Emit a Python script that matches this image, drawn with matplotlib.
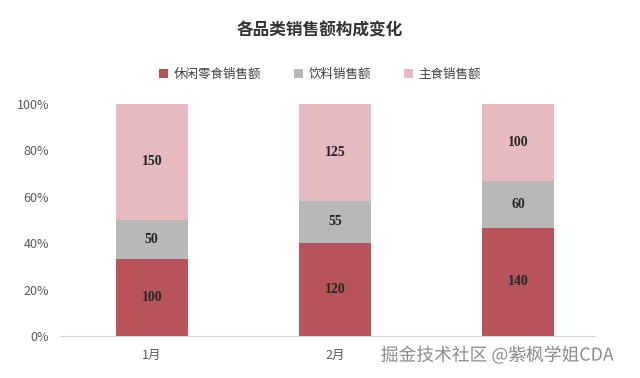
import numpy as np
import matplotlib.pyplot as plt
import matplotlib.patheffects as pe

plt.rcParams['font.family'] = ['Noto Sans CJK SC', 'DejaVu Sans']

months = ['1月', '2月', '3月']
snack = np.array([100, 120, 140])
drink = np.array([50, 55, 60])
staple = np.array([150, 125, 100])
series_names = ['休闲零食销售额', '饮料销售额', '主食销售额']
colors = ['#B7535A', '#B8B8B8', '#E6BAC0']

total = snack + drink + staple
shares = [snack / total, drink / total, staple / total]
raw = [snack, drink, staple]

fig = plt.figure(figsize=(6.4, 3.78), dpi=100)
ax = fig.add_axes([0.094, 0.111, 0.836, 0.614])

x = np.arange(len(months))
bottom = np.zeros(len(months))
for name, share, vals, c in zip(series_names, shares, raw, colors):
    ax.bar(x, share, 0.395, bottom=bottom, color=c, label=name)
    for xi, b, s, v in zip(x, bottom, share, vals):
        ax.text(xi, b + s / 2, str(v), ha='center', va='center',
                fontsize=10, fontweight='bold', color='#262626',
                family='Liberation Serif')
    bottom += share

ax.set_xlim(-0.5, 2.42)
ax.set_ylim(0, 1)
ax.set_yticks(np.arange(0, 1.01, 0.2))
ax.set_yticklabels([f'{int(v * 100)}%' for v in np.arange(0, 1.01, 0.2)])
ax.set_xticks(x)
ax.set_xticklabels(months)
ax.tick_params(axis='both', length=0, labelsize=9, colors='#595959')
ax.tick_params(axis='x', pad=9)
ax.tick_params(axis='y', pad=8)
for s in ['top', 'right', 'left']:
    ax.spines[s].set_visible(False)
ax.spines['bottom'].set_color('#D9D9D9')

fig.text(0.5, 0.92, '各品类销售额构成变化', ha='center', va='center',
         fontsize=12, fontweight='bold', color='#333333')
fig.legend(loc='center', bbox_to_anchor=(0.5, 0.804), ncol=3, frameon=False,
           fontsize=9, handlelength=0.7, handleheight=0.7, columnspacing=2.6,
           handletextpad=0.5, labelcolor='#404040')

fig.text(0.958, 0.06, '掘金技术社区 @紫枫学姐CDA', ha='right', va='center',
         fontsize=12.8, color='#8C8C8C',
         path_effects=[pe.withStroke(linewidth=2, foreground='white')])

fig.savefig('out.png', dpi=100)
